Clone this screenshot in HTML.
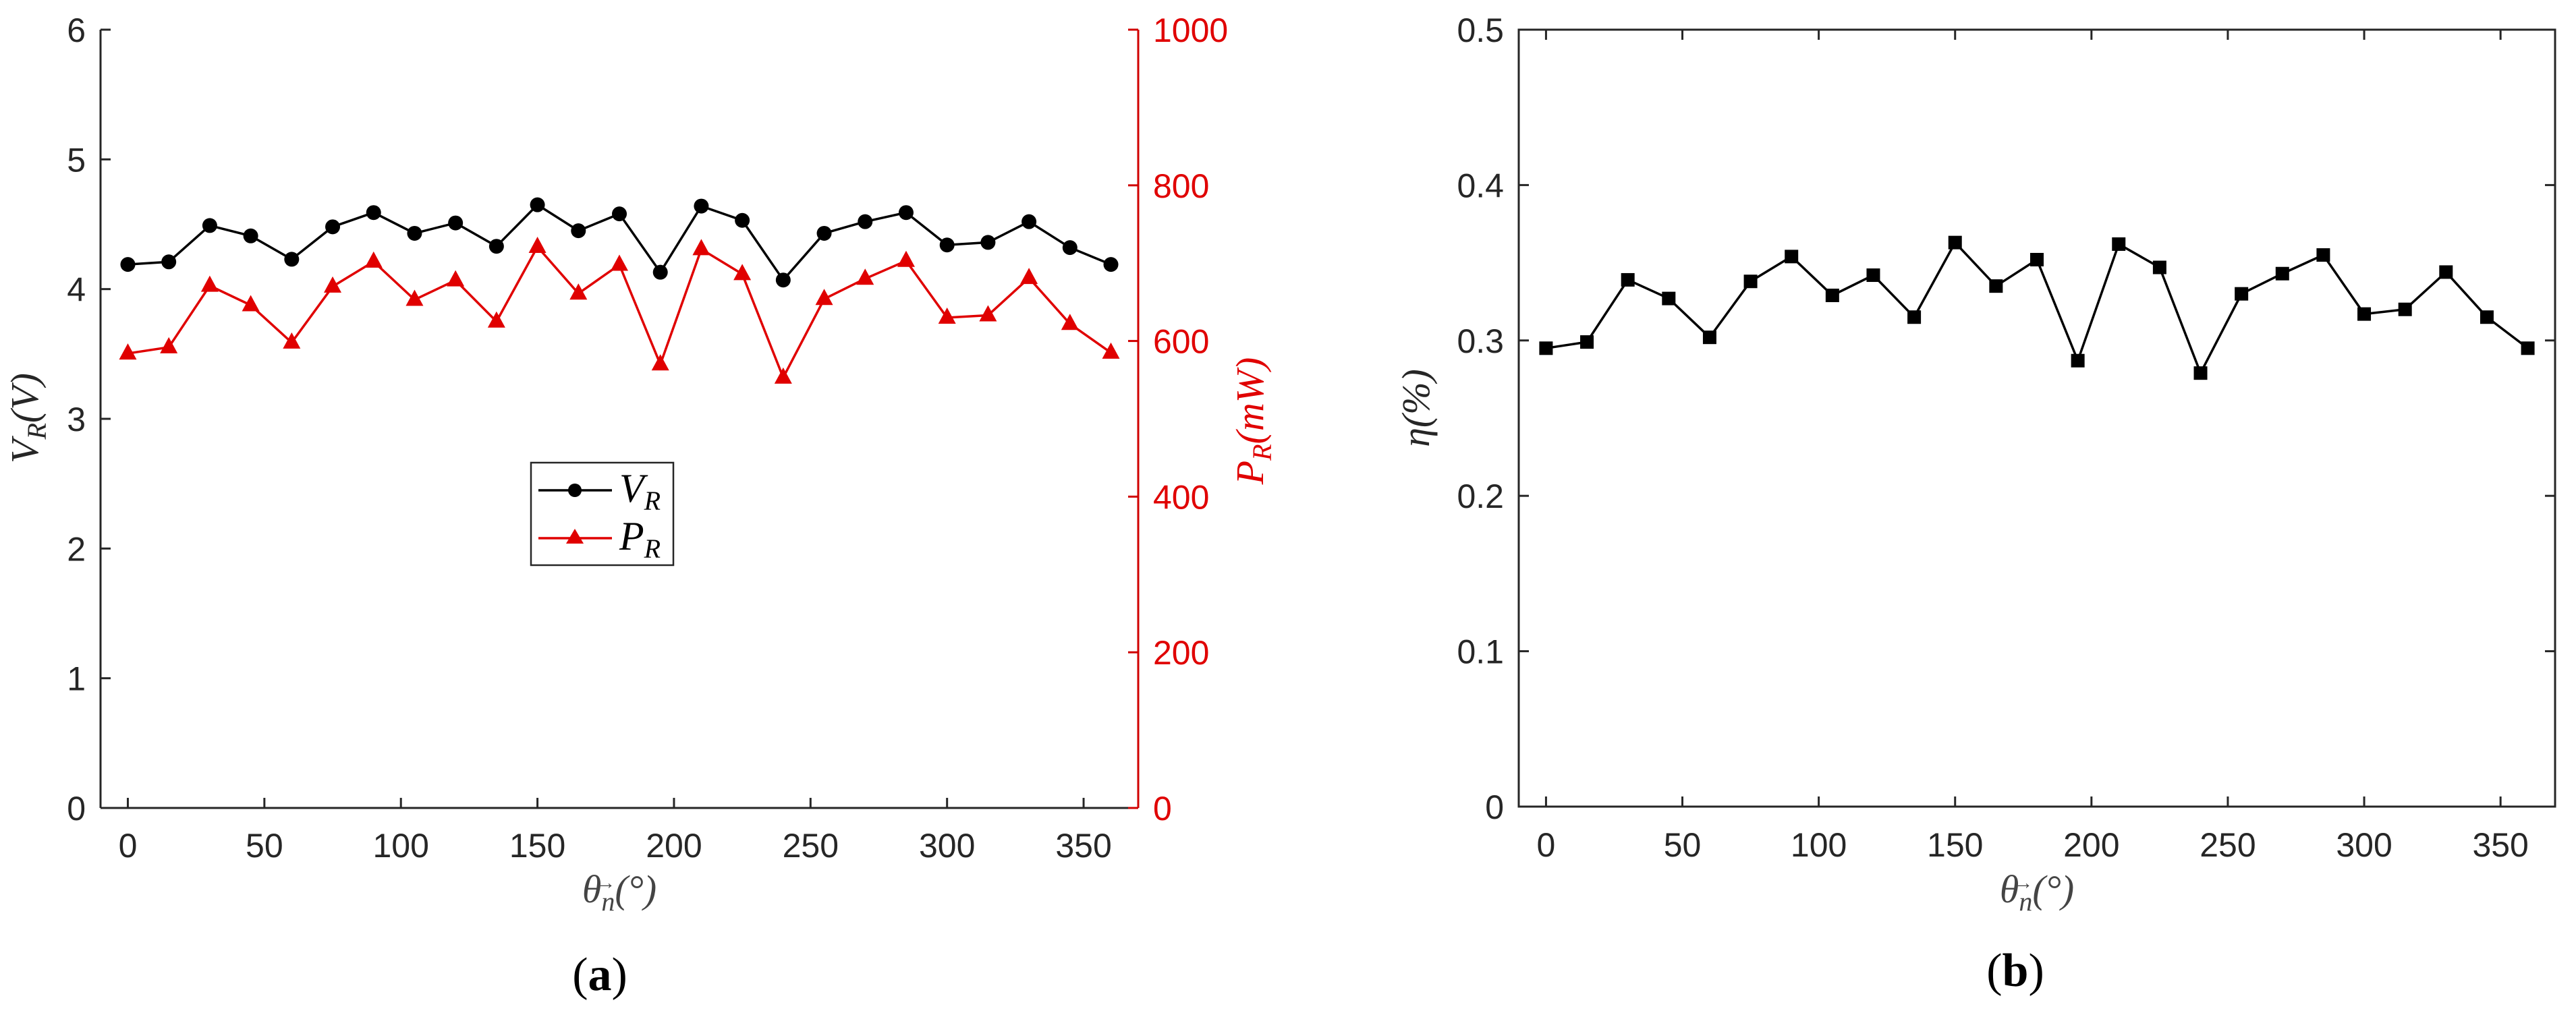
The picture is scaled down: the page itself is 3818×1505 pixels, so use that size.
<!DOCTYPE html>
<html><head><meta charset="utf-8"><style>
html,body{margin:0;padding:0;background:#fff;}
svg{display:block;}
.t{font-family:"Liberation Sans",sans-serif;font-size:50px;fill:#262626;}
.r{font-family:"Liberation Sans",sans-serif;font-size:50px;fill:#e00000;}
</style></head><body>
<svg id="s" width="3818" height="1505" viewBox="0 0 3818 1505" xmlns="http://www.w3.org/2000/svg">
<rect width="3818" height="1505" fill="#fff"/>
<g id="ga"></g>
<g id="gb"></g>
<text x="56" y="620" transform="rotate(-90 56 620)" text-anchor="middle" style="font-family:'Liberation Serif',serif;font-style:italic;font-size:58px" fill="#262626">V<tspan style="font-size:40px" dy="12">R</tspan><tspan dy="-12">(V)</tspan></text>
<text x="1872" y="624" transform="rotate(-90 1872 624)" text-anchor="middle" style="font-family:'Liberation Serif',serif;font-style:italic;font-size:58px" fill="#e00000">P<tspan style="font-size:40px" dy="12">R</tspan><tspan dy="-12">(mW)</tspan></text>
<text x="2118" y="605" transform="rotate(-90 2118 605)" text-anchor="middle" style="font-family:'Liberation Serif',serif;font-style:italic;font-size:58px" fill="#262626">η(%)</text>
<g>
<text x="918" y="1338" text-anchor="middle" style="font-family:'Liberation Serif',serif;font-style:italic;font-size:58px" fill="#444">θ<tspan style="font-size:40px" dy="12">n</tspan><tspan dy="-12">(°)</tspan></text>
<text x="898" y="1318" text-anchor="middle" style="font-family:'Liberation Serif',serif;font-size:28px" fill="#444">→</text>
</g>
<g>
<text x="3019" y="1338" text-anchor="middle" style="font-family:'Liberation Serif',serif;font-style:italic;font-size:58px" fill="#444">θ<tspan style="font-size:40px" dy="12">n</tspan><tspan dy="-12">(°)</tspan></text>
<text x="2999" y="1318" text-anchor="middle" style="font-family:'Liberation Serif',serif;font-size:28px" fill="#444">→</text>
</g>
<text x="889" y="1468" text-anchor="middle" style="font-family:'Liberation Serif',serif;font-size:70px" fill="#000">(<tspan font-weight="bold">a</tspan>)</text>
<text x="2987" y="1462" text-anchor="middle" style="font-family:'Liberation Serif',serif;font-size:70px" fill="#000">(<tspan font-weight="bold">b</tspan>)</text>
<g>
<rect x="787" y="686" width="211" height="152" fill="#fff" stroke="#262626" stroke-width="2.5"/>
<line x1="798" y1="727" x2="907" y2="727" stroke="#000" stroke-width="3.5"/>
<circle cx="852" cy="727" r="10" fill="#000"/>
<text x="918" y="744" style="font-family:'Liberation Serif',serif;font-style:italic;font-size:60px" fill="#000">V<tspan style="font-size:40px" dy="12">R</tspan></text>
<line x1="798" y1="798" x2="907" y2="798" stroke="#e00000" stroke-width="3.5"/>
<polygon points="852,784 865,806 839,806" fill="#e00000"/>
<text x="918" y="815" style="font-family:'Liberation Serif',serif;font-style:italic;font-size:60px" fill="#000">P<tspan style="font-size:40px" dy="12">R</tspan></text>
</g>
</svg>
<script>
const angles=[0,15,30,45,60,75,90,105,120,135,150,165,180,195,210,225,240,255,270,285,300,315,330,345,360];
const vr=[4.19,4.21,4.49,4.41,4.23,4.48,4.59,4.43,4.51,4.33,4.65,4.45,4.58,4.13,4.64,4.53,4.07,4.43,4.52,4.59,4.34,4.36,4.52,4.32,4.19];
const pr=[584,592,671,646,598,670,702,653,678,625,721,661,698,570,718,686,553,654,680,703,630,633,681,622,585];
const eta=[0.295,0.299,0.339,0.327,0.302,0.338,0.354,0.329,0.342,0.315,0.363,0.335,0.352,0.287,0.362,0.347,0.279,0.330,0.343,0.355,0.317,0.320,0.344,0.315,0.295];
const xTicks=[0,50,100,150,200,250,300,350];
const vTicks=[0,1,2,3,4,5,6];
const pTicks=[0,200,400,600,800,1000];
const eTicks=[0,0.1,0.2,0.3,0.4,0.5];
const NS="http://www.w3.org/2000/svg";
function mk(p,tag,at){const e=document.createElementNS(NS,tag);for(const k in at)e.setAttribute(k,at[k]);p.appendChild(e);return e;}
function scale(d0,d1,r0,r1){return v=>r0+(v-d0)/(d1-d0)*(r1-r0);}
const ga=document.getElementById('ga');
const xa=scale(-10,370,149,1687), yv=scale(0,6,1198,44), yp=scale(0,1000,1198,44);
mk(ga,'line',{x1:149,y1:44,x2:149,y2:1198,stroke:'#262626','stroke-width':3});
mk(ga,'line',{x1:149,y1:1198,x2:1687,y2:1198,stroke:'#262626','stroke-width':3});
mk(ga,'line',{x1:1687,y1:44,x2:1687,y2:1198,stroke:'#d00000','stroke-width':3});
xTicks.forEach(t=>{const x=xa(t);
 const l=mk(ga,'line',{x1:x,y1:1198,x2:x,y2:1183,stroke:'#262626','stroke-width':3});
 
 const tx=mk(ga,'text',{x:x,y:1271,'text-anchor':'middle',class:'t'});tx.textContent=t;
 });
vTicks.forEach(t=>{const y=yv(t);
 mk(ga,'line',{x1:149,y1:y,x2:164,y2:y,stroke:'#262626','stroke-width':3});
 const tx=mk(ga,'text',{x:127,y:y+18,'text-anchor':'end',class:'t'});tx.textContent=t;
 });
pTicks.forEach(t=>{const y=yp(t);
 mk(ga,'line',{x1:1687,y1:y,x2:1672,y2:y,stroke:'#d00000','stroke-width':3});
 const tx=mk(ga,'text',{x:1709,y:y+18,class:'r'});tx.textContent=t;
 });
const lv=mk(ga,'polyline',{points:angles.map((a,i)=>xa(a)+','+yv(vr[i])).join(' '),fill:'none',stroke:'#000','stroke-width':3.5});

const lp=mk(ga,'polyline',{points:angles.map((a,i)=>xa(a)+','+yp(pr[i])).join(' '),fill:'none',stroke:'#e00000','stroke-width':3.5});

angles.forEach((a,i)=>{const x=xa(a),y=yv(vr[i]);
 const c=mk(ga,'circle',{cx:x,cy:y,r:11,fill:'#000'});
 
 const y2=yp(pr[i]);
 const p=mk(ga,'polygon',{points:`${x},${y2-15} ${x+13},${y2+9} ${x-13},${y2+9}`,fill:'#e00000'});
 });
const gb=document.getElementById('gb');
const xb=scale(-10,370,2251,3787), ye=scale(0,0.5,1196,44);
mk(gb,'rect',{x:2251,y:44,width:1536,height:1152,fill:'none',stroke:'#262626','stroke-width':3});
xTicks.forEach(t=>{const x=xb(t);
 mk(gb,'line',{x1:x,y1:1196,x2:x,y2:1181,stroke:'#262626','stroke-width':3});
 mk(gb,'line',{x1:x,y1:44,x2:x,y2:59,stroke:'#262626','stroke-width':3});
 const tx=mk(gb,'text',{x:x,y:1270,'text-anchor':'middle',class:'t'});tx.textContent=t;
 });
eTicks.forEach(t=>{const y=ye(t);
 mk(gb,'line',{x1:2251,y1:y,x2:2266,y2:y,stroke:'#262626','stroke-width':3});
 mk(gb,'line',{x1:3787,y1:y,x2:3772,y2:y,stroke:'#262626','stroke-width':3});
 const tx=mk(gb,'text',{x:2229,y:y+18,'text-anchor':'end',class:'t'});tx.textContent=t;
 });
const le=mk(gb,'polyline',{points:angles.map((a,i)=>xb(a)+','+ye(eta[i])).join(' '),fill:'none',stroke:'#000','stroke-width':3.5});

angles.forEach((a,i)=>{const x=xb(a),y=ye(eta[i]);
 const r=mk(gb,'rect',{x:x-10,y:y-10,width:20,height:20,fill:'#000'});
 });
</script>
</body></html>
